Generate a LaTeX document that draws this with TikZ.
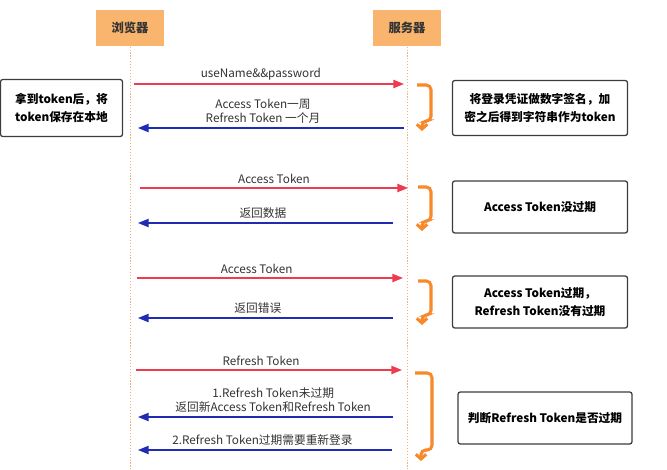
\documentclass[tikz,border=0pt]{standalone}
\usepackage{fontspec}
\setmainfont{Noto Sans CJK SC}
\usetikzlibrary{arrows.meta}
\definecolor{hdrfill}{HTML}{F9B46E}
\definecolor{lifeorange}{HTML}{F2B27A}
\definecolor{reqred}{HTML}{EE3B4F}
\definecolor{respblue}{HTML}{1F2BB5}
\definecolor{hookorange}{HTML}{F7892A}
\definecolor{boxgray}{HTML}{3C3C3C}
\definecolor{txtgray}{HTML}{333333}
\begin{document}
\begin{tikzpicture}[x=0.03cm, y=-0.03cm,
    header/.style={fill=hdrfill, minimum width=2.05cm, minimum height=1.1cm, font=\fontsize{10.5}{12}\selectfont\bfseries, text=txtgray},
    note/.style={draw=boxgray, line width=1.1pt, rounded corners=2pt, align=center, text=black, font=\fontsize{10}{15}\selectfont\bfseries},
    life/.style={draw=lifeorange, line width=0.8pt, dash pattern=on 1pt off 1.5pt},
    req/.style={draw=reqred, line width=1.1pt, -{Triangle[length=9pt,width=7pt]}},
    resp/.style={draw=respblue, line width=1.1pt, -{Triangle[length=9pt,width=7pt]}},
    hook/.style={draw=hookorange, line width=2.6pt, rounded corners=4pt, -{Straight Barb[length=4pt,width=9pt]}},
    lbl/.style={above=2pt, inner sep=1pt, align=center, text=txtgray, font=\fontsize{10}{12.5}\selectfont}]
        \useasboundingbox (0,0) rectangle (667,469);

        % Nodes
        \node (browser) at (130,28) [header] {浏览器};
        \node (server)  at (407,28) [header] {服务器};
        \coordinate (browserend) at (130,469);
        \coordinate (serverend)  at (407,469);

        \node (keep)    at (61.5,108) [note, minimum width=3.66cm, minimum height=1.71cm] {拿到token后，将\\token保存在本地};
        \node (sign)    at (540,108)  [note, minimum width=5.25cm, minimum height=1.65cm] {将登录凭证做数字签名，加\\密之后得到字符串作为token};
        \node (valid)   at (540,207)  [note, minimum width=5.25cm, minimum height=1.56cm] {Access Token没过期};
        \node (expired) at (540,302)  [note, minimum width=5.25cm, minimum height=1.56cm] {Access Token过期，\\Refresh Token没有过期};
        \node (check)   at (545,418)  [note, minimum width=5.22cm, minimum height=1.56cm] {判断Refresh Token是否过期};

        % Message ends
        \coordinate (b1) at (134,84);  \coordinate (s1) at (404,84);
        \coordinate (s2) at (404,128); \coordinate (b2) at (138,128);
        \coordinate (b3) at (140,188); \coordinate (s3) at (408,188);
        \coordinate (s4) at (393,223); \coordinate (b4) at (138,223);
        \coordinate (b5) at (137,278); \coordinate (s5) at (403,278);
        \coordinate (s6) at (393,318); \coordinate (b6) at (138,318);
        \coordinate (b7) at (136,370); \coordinate (s7) at (402,370);
        \coordinate (s8) at (393,417); \coordinate (b8) at (138,417);
        \coordinate (s9) at (392,450); \coordinate (b9) at (138,450);

        % Lifelines
        \draw[life] (browser) -- (browserend);
        \draw[life] (server) -- (serverend);

        % Messages
        \draw[req]  (b1) -- node[lbl, pos=0.47] {useName\&\&password} (s1);
        \draw[resp] (s2) -- node[lbl, pos=0.53] {Access Token一周\\Refresh Token 一个月} (b2);
        \draw[req]  (b3) -- node[lbl, pos=0.5] {Access Token} (s3);
        \draw[resp] (s4) -- node[lbl, pos=0.51] {返回数据} (b4);
        \draw[req]  (b5) -- node[lbl, pos=0.45] {Access Token} (s5);
        \draw[resp] (s6) -- node[lbl, pos=0.53] {返回错误} (b6);
        \draw[req]  (b7) -- node[lbl, pos=0.47] {Refresh Token} (s7);
        \draw[resp] (s8) -- node[lbl, pos=0.47] {1.Refresh Token未过期\\返回新Access Token和Refresh Token} (b8);
        \draw[resp] (s9) -- node[lbl, pos=0.51] {2.Refresh Token过期需要重新登录} (b9);

        % Server turns
        \draw[hook] (417,85) -| (431,121) -| (422,131);
        \draw[hook] (418,187) -| (431,221) -| (422,231);
        \draw[hook] (418,281) -| (431,315) -| (422,325);
        \draw[hook] (415,373) -| (432,450) -| (421,461);
      \end{tikzpicture}
\end{document}
